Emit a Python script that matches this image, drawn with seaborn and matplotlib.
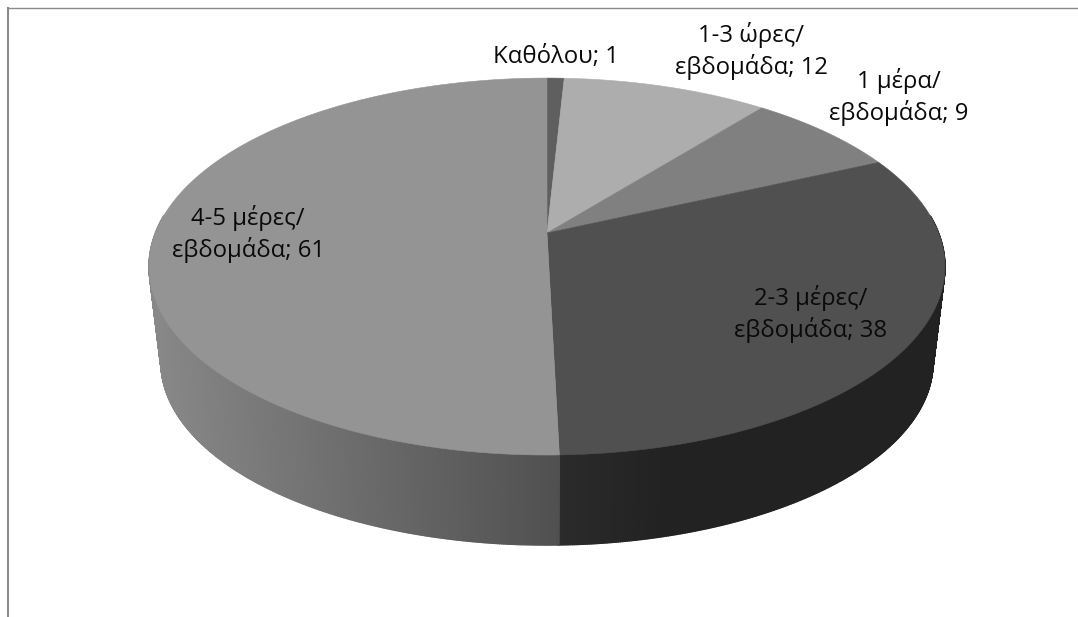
import numpy as np
import matplotlib
matplotlib.use("Agg")
import matplotlib.pyplot as plt
import seaborn as sns

# Weekly frequency categories and their counts
categories = ["Καθόλου", "1-3 ώρες/\nεβδομάδα", "1 μέρα/\nεβδομάδα",
              "2-3 μέρες/\nεβδομάδα", "4-5 μέρες/\nεβδομάδα"]
values = [1, 12, 9, 38, 61]

top_greys = ["#5f5f5f", "#adadad", "#808080", "#505050", "#949494"]
# Side-wall grey at the right and left end of the drawn width
wall_greys = [(0x3a, 0x3a), (0x70, 0x70), (0x50, 0x50), (0x22, 0x2b), (0x50, 0x88)]

label_centres = [(556, 57), (751, 51), (899, 97), (811, 314), (248, 234)]

sns.set_theme(style="white")
plt.rcParams["font.family"] = ["Open Sans", "DejaVu Sans"]

fig = plt.figure(figsize=(10.78, 6.17), dpi=100, facecolor="white")
ax = fig.add_axes([0, 0, 1, 1])
ax.set_xlim(0, 1078)
ax.set_ylim(617, 0)
ax.axis("off")

palette = sns.color_palette(top_greys)

# Perspective projection of the pie's disc
APEX_X, APEX_Y = 547, 233
A, B, K = 391.6, 182.5, 0.178
LOWER_SCALE, LOWER_APEX_Y = 0.97, 329.7


def rim(theta, scale=1.0, apex_y=APEX_Y):
    u, v = np.sin(theta), np.cos(theta)
    d = 1 + K * v
    return APEX_X + scale * A * u / d, apex_y - scale * B * v / d


edges = np.deg2rad(np.concatenate([[0], np.cumsum(values)]) / np.sum(values) * 360)

# Side wall: narrow quads between the upper and the lower rim
for i, (lo, hi) in enumerate(zip(edges[:-1], edges[1:])):
    ts = np.arange(lo, hi + 0.004, 0.004)
    ts = ts[np.cos(ts) < 0.1]
    if len(ts) < 2:
        continue
    right, left = wall_greys[i][0], wall_greys[i][1]
    xs = rim(ts)[0]
    span = max(xs.max() - xs.min(), 1)
    for t0, t1, x0 in zip(ts[:-1], ts[1:], xs[:-1]):
        f = (xs.max() - x0) / span
        if i == 3:
            f = max(0.0, (f - 0.72) / 0.28)
        g = (right + (left - right) * f) / 255
        x_a, y_a = rim(np.array([t0, t1]))
        x_b, y_b = rim(np.array([t1, t0]), LOWER_SCALE, LOWER_APEX_Y)
        ax.fill(np.r_[x_a, x_b], np.r_[y_a, y_b], color=(g, g, g), lw=1.0)

# Top face: one polygon per category
for lo, hi, colour in zip(edges[:-1], edges[1:], palette):
    ts = np.linspace(lo, hi, 240)
    x, y = rim(ts)
    ax.fill(np.r_[APEX_X, x], np.r_[APEX_Y, y], facecolor=colour,
            edgecolor=colour, lw=0.4)

# Labels state category and count
for cat, val, (cx, cy) in zip(categories, values, label_centres):
    ax.text(cx, cy, f"{cat}; {val}", ha="center", va="center", fontsize=17.2,
            color="#0a0a0a", linespacing=1.26)

# Chart-area border, top and left only
ax.plot([8, 1078], [7.5, 7.5], color="#8a8a8a", lw=1.0, solid_capstyle="butt")
ax.plot([8, 8], [7, 617], color="#8a8a8a", lw=1.5, solid_capstyle="butt")

fig.savefig("out.png", dpi=100, facecolor="white")
